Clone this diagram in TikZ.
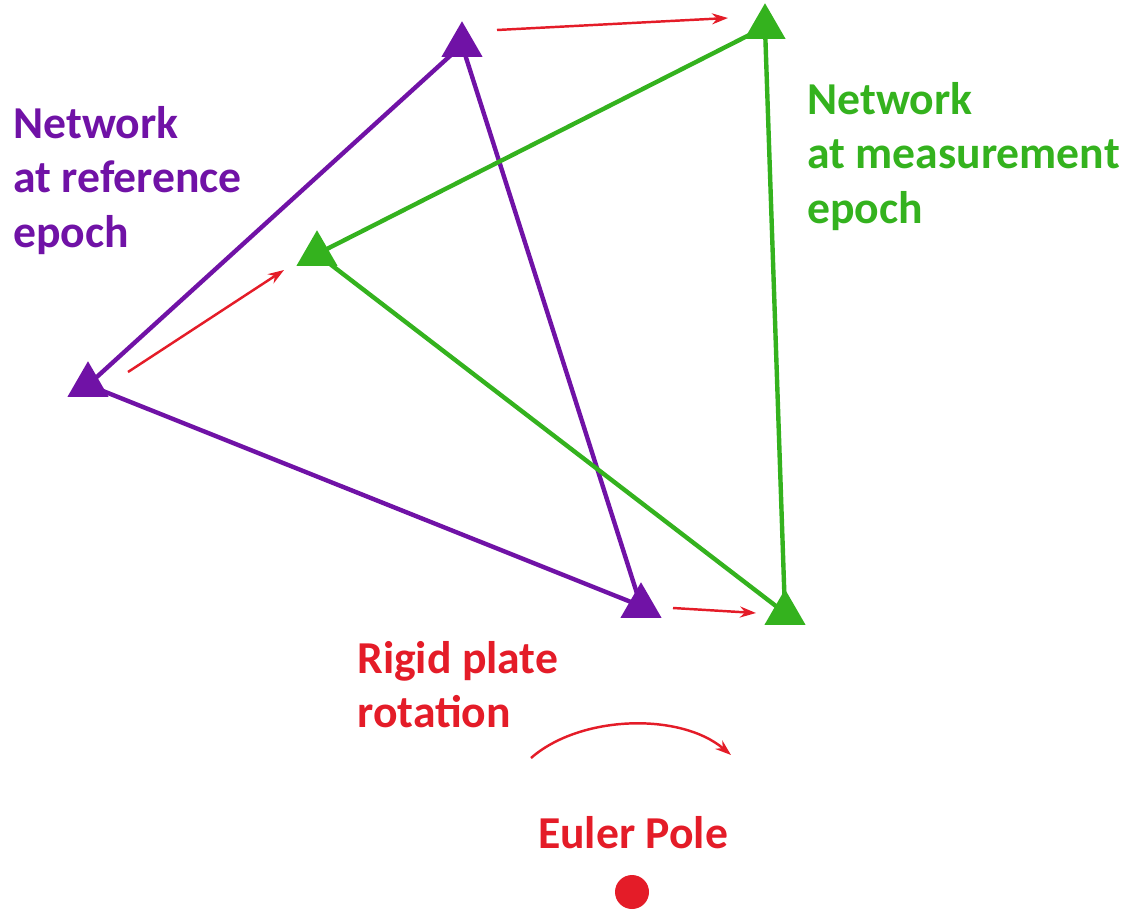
\documentclass[tikz,border=0pt]{standalone}
\usepackage{fontspec}
\setmainfont{Carlito}
\usetikzlibrary{arrows.meta,shapes.geometric,backgrounds}
\definecolor{netref}{RGB}{112,18,166}
\definecolor{netmeas}{RGB}{52,178,30}
\definecolor{rotred}{RGB}{228,28,40}
\tikzset{
	station/.style={regular polygon, regular polygon sides=3, minimum size=0.95cm, inner sep=0pt, draw=none},
	edge/.style={line width=2.5pt},
	motion/.style={rotred, line width=1.4pt, -{Stealth[length=0.32cm, width=0.22cm]}},
	lbl/.style={font=\fontsize{26}{31}\selectfont\bfseries, align=left, inner sep=0pt}
}
\begin{document}
\begin{tikzpicture}[x=0.02cm, y=-0.02cm]
	\useasboundingbox (0,0) rectangle (1122,913);
	% stations, reference epoch
	\node[station, fill=netref] (refA) at (462,45) {};
	\node[station, fill=netref] (refB) at (88,385) {};
	\node[station, fill=netref] (refC) at (641,606) {};
	% stations, measurement epoch
	\node[station, fill=netmeas] (meaA) at (765,27) {};
	\node[station, fill=netmeas] (meaB) at (317,254) {};
	\node[station, fill=netmeas] (meaC) at (785,613) {};
	\begin{scope}[on background layer]
		\draw[edge, netref] (refB.center) -- (refA.center) -- (refC.center) -- (refB.center);
		\draw[edge, netmeas] (meaA.center) -- (meaB.center) -- (meaC.center) -- (meaA.center);
	\end{scope}
	% displacements
	\coordinate (dA0) at (497,30);  \coordinate (dA1) at (728,18);
	\coordinate (dB0) at (128,372); \coordinate (dB1) at (284,270);
	\coordinate (dC0) at (673,608); \coordinate (dC1) at (756,613);
	\draw[motion] (dA0) -- (dA1);
	\draw[motion] (dB0) -- (dB1);
	\draw[motion] (dC0) -- (dC1);
	% labels
	\node[lbl, netref, anchor=north west] (txtref) at (13,106) {Network\\at reference\\epoch};
	\node[lbl, netmeas, anchor=north west] (txtmeas) at (807,82) {Network\\at measurement\\epoch};
	\node[lbl, rotred, anchor=north west] (txtrot) at (357,641) {Rigid plate\\rotation};
	% rotation and pole
	\coordinate (rot0) at (531,758); \coordinate (rot1) at (731,755);
	\draw[motion] (rot0) .. controls (580,715) and (680,712) .. (rot1);
	\node[lbl, rotred] (txtpole) at (633,833) {Euler Pole};
	\fill[rotred] (632,892) circle (17) node (pole) {};
\end{tikzpicture}
\end{document}
